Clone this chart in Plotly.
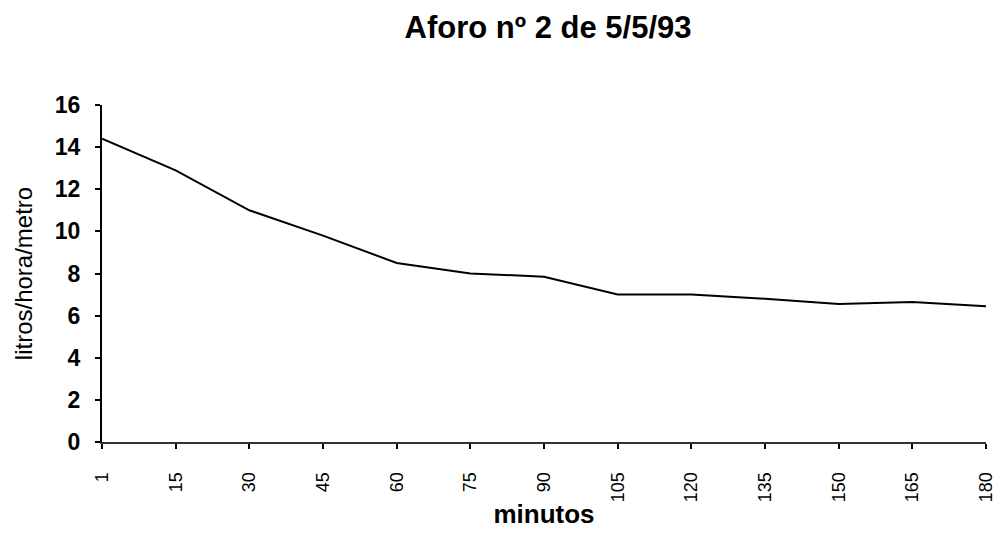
import plotly.graph_objects as go

minutos = ["1", "15", "30", "45", "60", "75", "90", "105", "120", "135", "150", "165", "180"]
caudal = [14.4, 12.9, 11.0, 9.8, 8.5, 8.0, 7.85, 7.0, 7.0, 6.8, 6.55, 6.65, 6.45]
y_ticks = [0, 2, 4, 6, 8, 10, 12, 14, 16]

W, H = 987, 521  # page body has an 8px margin on each side

fig = go.Figure()
fig.add_trace(go.Scatter(x=minutos, y=caudal, mode="lines",
                         line=dict(color="black", width=2), showlegend=False))

fig.update_layout(
    width=W, height=H,
    paper_bgcolor="white", plot_bgcolor="white",
    margin=dict(l=94, r=9, t=97, b=87),
    title=dict(text="<b>Aforo nº 2 de 5/5/93</b>", x=540 / W, xanchor="center",
               y=1 - 19 / H, yanchor="middle",
               font=dict(family="Liberation Sans, Arial", size=31, color="black")),
    xaxis=dict(type="category", range=[0, 12], showgrid=False, zeroline=False,
               automargin=False,
               showline=True, linecolor="#333", linewidth=2,
               ticks="outside", ticklen=5, tickcolor="black", tickwidth=1.5,
               tickangle=-90, ticklabelstandoff=16,
               tickfont=dict(family="Liberation Sans, Arial", size=18, color="black"),
               title=dict(text="<b>minutos</b>", standoff=19,
                          font=dict(family="Liberation Sans, Arial", size=26, color="black"))),
    yaxis=dict(range=[0, 16], tickvals=y_ticks, showgrid=False, zeroline=False,
               automargin=False,
               showline=True, linecolor="black", linewidth=2,
               ticks="outside", ticklen=5, tickcolor="black", tickwidth=1.5,
               ticklabelstandoff=10,
               tickfont=dict(family="Liberation Sans, Arial", size=23, color="black", weight="bold"),
               title=dict(text="litros/hora/metro", standoff=15,
                          font=dict(family="Liberation Sans, Arial", size=24, color="black"))),
)

fig.write_html("out.html")
